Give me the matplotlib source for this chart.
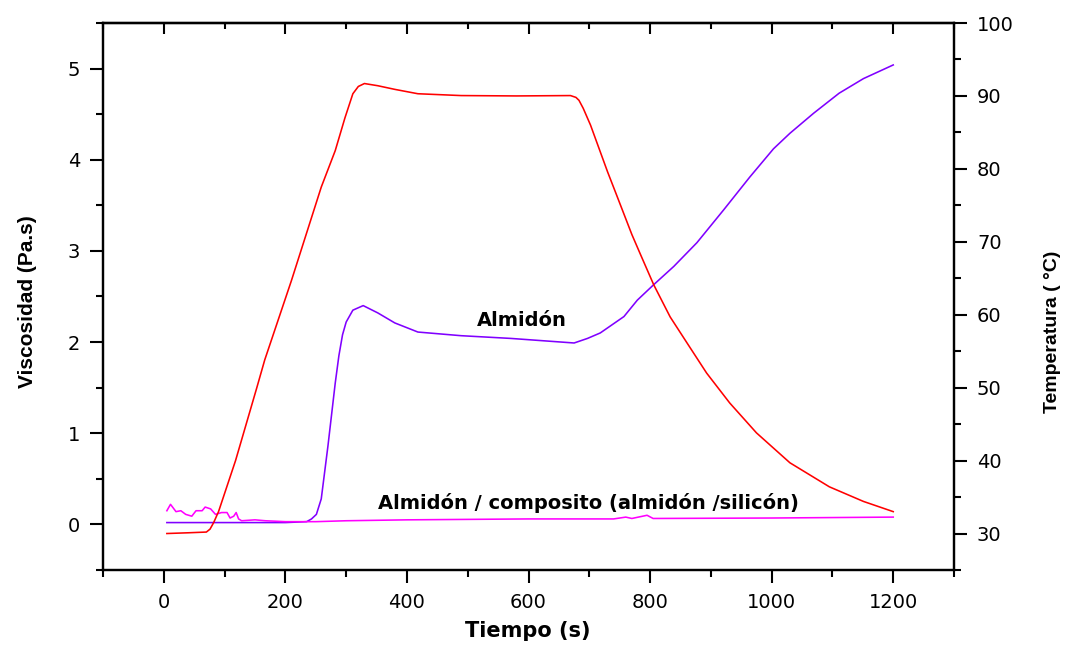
import matplotlib
matplotlib.use("Agg")
import matplotlib.pyplot as plt
from matplotlib.ticker import MultipleLocator

# temperatura (eje derecho)
t_temp = [5, 40, 70, 76, 82, 90, 98, 118, 139, 153, 166, 210, 259, 282, 298, 311, 320, 330, 352,
          380, 418, 489, 580, 669, 678, 683, 690, 702, 716, 730, 744, 757, 770, 784, 806, 833,
          861, 893, 931, 975, 1030, 1095, 1151, 1200]
temp = [30.0, 30.1, 30.2, 30.6, 31.5, 33.0, 35.0, 40.0, 46.0, 50.0, 53.8, 64.7, 77.5, 82.5, 87.0,
        90.3, 91.3, 91.7, 91.4, 90.9, 90.3, 90.05, 90.0, 90.05, 89.8, 89.4, 88.3, 86.0, 82.8,
        79.6, 76.6, 73.8, 71.0, 68.3, 64.1, 59.7, 56.1, 52.0, 47.9, 43.8, 39.7, 36.4, 34.4, 33.0]

# viscosidad almidon
t_alm = [5, 100, 200, 235, 243, 251, 259, 270, 282, 288, 294, 300, 311, 328, 352, 380, 418, 489,
         571, 675, 697, 718, 757, 779, 806, 839, 877, 921, 964, 1003, 1030, 1069, 1111, 1151,
         1200]
visc_alm = [0.02, 0.02, 0.02, 0.03, 0.06, 0.11, 0.28, 0.86, 1.55, 1.85, 2.08, 2.22, 2.35, 2.40,
            2.32, 2.21, 2.11, 2.07, 2.04, 1.99, 2.04, 2.10, 2.28, 2.46, 2.63, 2.83, 3.09, 3.45,
            3.81, 4.12, 4.29, 4.51, 4.73, 4.89, 5.04]

# viscosidad almidon / composito
t_comp = [5, 11, 20, 28, 36, 46, 53, 63, 68, 77, 85, 95, 104, 109, 115, 119, 123, 128, 150, 167,
          200, 250, 300, 400, 600, 740, 760, 770, 795, 805, 1000, 1200]
visc_comp = [0.15, 0.22, 0.14, 0.15, 0.11, 0.09, 0.15, 0.15, 0.19, 0.17, 0.11, 0.13, 0.13, 0.07,
             0.09, 0.13, 0.06, 0.04, 0.05, 0.04, 0.03, 0.03, 0.04, 0.05, 0.06, 0.06, 0.08, 0.065,
             0.10, 0.065, 0.07, 0.08]

tick_font = "DejaVu Sans"
label_font = "Liberation Sans"

fig = plt.figure(figsize=(10.7, 6.48), dpi=100)
ax = fig.add_axes([0.0963, 0.1204, 0.7953, 0.8441])
ax2 = ax.twinx()

ax.plot(t_alm, visc_alm, color="#8000ff", lw=1.15)
ax.plot(t_comp, visc_comp, color="#ff00ff", lw=1.15)
ax2.plot(t_temp, temp, color="#ff0000", lw=1.15)

ax.set_xlim(-100, 1300)
ax.set_ylim(-0.5, 5.5)
ax2.set_ylim(25, 100)

ax.xaxis.set_major_locator(MultipleLocator(200))
ax.xaxis.set_minor_locator(MultipleLocator(100))
ax.yaxis.set_major_locator(MultipleLocator(1))
ax.yaxis.set_minor_locator(MultipleLocator(0.5))
ax2.yaxis.set_major_locator(MultipleLocator(10))
ax2.yaxis.set_minor_locator(MultipleLocator(5))

for a in (ax, ax2):
    for s in a.spines.values():
        s.set_linewidth(1.6)
    a.tick_params(which="major", length=9.5, width=1.5, direction="out", pad=7,
                  labelsize=14)
    a.tick_params(which="minor", length=5, width=1.5, direction="out")
ax.tick_params(axis="y", right=False)

# top ticks point inward
top = ax.secondary_xaxis("top")
top.xaxis.set_major_locator(MultipleLocator(200))
top.xaxis.set_minor_locator(MultipleLocator(100))
top.tick_params(which="major", direction="in", length=8, width=1.5, labeltop=False)
top.tick_params(which="minor", direction="in", length=4.5, width=1.5)
top.spines["top"].set_linewidth(1.6)

for lab in ax.get_xticklabels() + ax.get_yticklabels() + ax2.get_yticklabels():
    lab.set_family(tick_font)

ax.set_xlabel("Tiempo (s)", fontsize=15, fontweight="bold", family="DejaVu Sans")
ax.xaxis.set_label_coords(0.499, -0.093)
ax.set_ylabel("Viscosidad (Pa.s)", fontsize=15, fontweight="bold", family=label_font)
ax.yaxis.set_label_coords(-0.078, 0.49)
ax2.set_ylabel("Temperatura ( °C)", fontsize=14, fontweight="bold", family=label_font)
ax2.yaxis.set_label_coords(1.106, 0.435)

ax.text(589, 2.24, "Almidón", fontsize=14, fontweight="bold", family="DejaVu Sans",
        ha="center", va="center")
ax.text(698, 0.24, "Almidón / composito (almidón /silicón)", fontsize=14, fontweight="bold",
        family="DejaVu Sans", ha="center", va="center")

fig.savefig("out.png", dpi=100)
